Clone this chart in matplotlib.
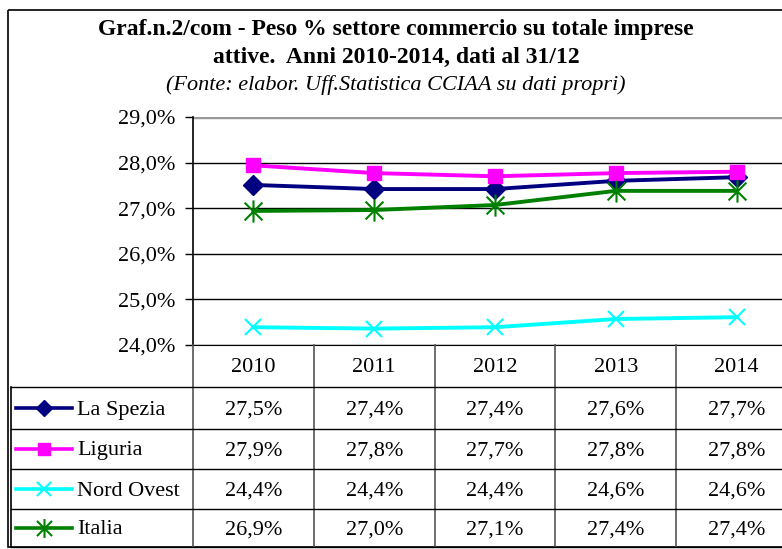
import numpy as np
import matplotlib
matplotlib.use('Agg')
import matplotlib.pyplot as plt
from matplotlib.path import Path
from matplotlib.patches import Rectangle

# ---------------------------------------------------------------------------
# Dati
anni = ['2010', '2011', '2012', '2013', '2014']
serie = ['La Spezia', 'Liguria', 'Nord Ovest', 'Italia']
la_spezia = [27.51, 27.42, 27.42, 27.60, 27.68]
liguria = [27.94, 27.77, 27.70, 27.77, 27.80]
nord_ovest = [24.39, 24.36, 24.39, 24.57, 24.61]
italia = [26.94, 26.96, 27.07, 27.38, 27.38]
valori = [la_spezia, liguria, nord_ovest, italia]
yticks = [24, 25, 26, 27, 28, 29]

titolo_1 = 'Graf.n.2/com - Peso % settore commercio su totale imprese'
titolo_2 = 'attive.  Anni 2010-2014, dati al 31/12'
fonte = '(Fonte: elabor. Uff.Statistica CCIAA su dati propri)'

# marker asterisco (x + verticale) stile Excel
star = Path([(0, -1), (0, 1), (-0.8, -0.8), (0.8, 0.8), (-0.8, 0.8), (0.8, -0.8)],
            [Path.MOVETO, Path.LINETO, Path.MOVETO, Path.LINETO, Path.MOVETO, Path.LINETO])

stili = [dict(color='#000080', marker='D', ms=10, mec='#000080', mfc='#000080', mew=1),
         dict(color='#FF00FF', marker='s', ms=10, mec='#FF00FF', mfc='#FF00FF', mew=1),
         dict(color='#00FFFF', marker='x', ms=12, mec='#00FFFF', mew=1.5),
         dict(color='#008000', marker=star, ms=16, mec='#008000', mew=1.5)]

W, H = 782, 549
fig = plt.figure(figsize=[W / 100, H / 100], dpi=100)
fig.patch.set_facecolor('white')
font = 'Liberation Serif'
fs = 16

def fmt(v):
    return ('%.1f' % v).replace('.', ',') + '%'

# ---------------------------------------------------------------------------
# area del grafico
x0, x1 = 193, 797
ytop, ybot = 117, 345
ax = fig.add_axes([x0 / W, 1 - ybot / H, (x1 - x0) / W, (ybot - ytop) / H])
xs = np.arange(len(anni))
for v, st in zip(valori, stili):
    ax.plot(xs, v, lw=2.8, zorder=3, clip_on=False, **st)
ax.set_xlim(-0.5, len(anni) - 0.5)
ax.set_ylim(24, 29)
ax.set_yticks(yticks)
ax.set_yticklabels([fmt(t) for t in yticks], fontfamily=font, fontsize=fs)
ax.set_xticks([])
ax.yaxis.grid(True, color='black', lw=1)
ax.set_axisbelow(True)
ax.tick_params(axis='y', direction='out', length=6, width=1, pad=7)
for s in ['top', 'right']:
    ax.spines[s].set_visible(False)
ax.spines['left'].set_linewidth(1.2)
# ombra grigia sopra l'area
ax.axhline(29, color='#999999', lw=2.5, zorder=1)

# ---------------------------------------------------------------------------
# titolo
fig.text(396 / W, 1 - 30 / H, titolo_1, ha='center', va='center',
         fontfamily=font, fontweight='bold', fontsize=17)
fig.text(396 / W, 1 - 57 / H, titolo_2, ha='center', va='center',
         fontfamily=font, fontweight='bold', fontsize=17)
fig.text(396 / W, 1 - 85 / H, fonte, ha='center', va='center',
         fontfamily=font, style='italic', fontsize=16)

# ---------------------------------------------------------------------------
# tabella dati
at = fig.add_axes([0, 0, 1, 1])
at.set_xlim(0, W)
at.set_ylim(H, 0)
at.axis('off')
at.patch.set_alpha(0)

# cornice esterna
at.add_patch(Rectangle((8, 10), 800, 537, fill=False, ec='black', lw=1.2))

col_w = (x1 - x0) / len(anni)
col_x = [x0 + i * col_w for i in range(len(anni) + 1)]
row_y = [345, 387, 429, 469, 509, 547]

for i in range(len(anni) + 1):
    at.plot([col_x[i], col_x[i]], [row_y[0], row_y[-1]], color='#555555', lw=1.2)
for i, a in enumerate(anni):
    at.text((col_x[i] + col_x[i + 1]) / 2, (row_y[0] + row_y[1]) / 2 + 2, a,
            ha='center', va='center', fontfamily=font, fontsize=fs)
at.plot([11, 11], [row_y[1], row_y[-1]], color='black', lw=1.2)
for j in range(1, len(row_y)):
    at.plot([11, 800], [row_y[j], row_y[j]], color='black', lw=1)

for j, (nome, v, st) in enumerate(zip(serie, valori, stili)):
    yc = (row_y[j + 1] + row_y[j + 2]) / 2
    st_leg = dict(st)
    st_leg['ms'] = st['ms'] * 0.85
    at.plot([16, 44, 72], [yc, yc, yc], lw=2.6, markevery=[1], **st_leg)
    at.text(77, yc + 2, nome, ha='left', va='center', fontfamily=font, fontsize=fs)
    for i, val in enumerate(v):
        at.text((col_x[i] + col_x[i + 1]) / 2, yc + 2, fmt(val),
                ha='center', va='center', fontfamily=font, fontsize=fs)

fig.savefig('out.png', dpi=100)
